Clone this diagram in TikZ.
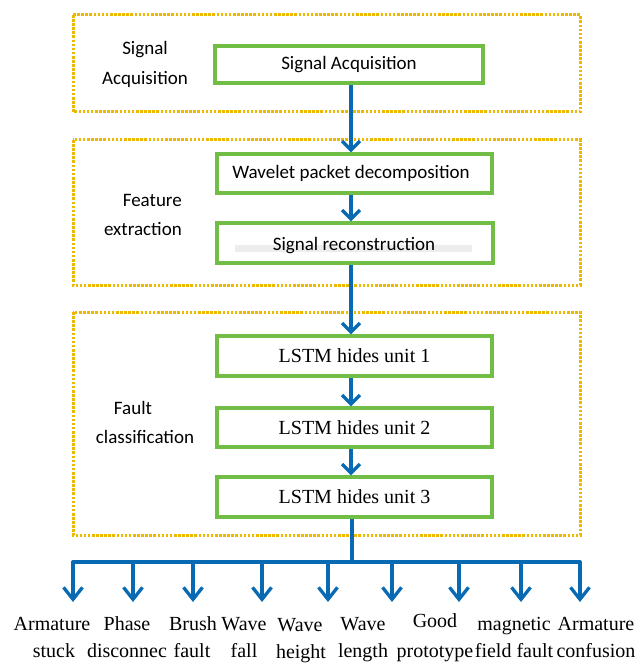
\documentclass[tikz,border=0pt]{standalone}
\usepackage{fontspec}
\setmainfont{Liberation Serif}
\newfontfamily\calfont{Carlito}
\usetikzlibrary{arrows.meta}
\definecolor{boxgreen}{RGB}{112,190,70}
\definecolor{dotgold}{RGB}{236,184,0}
\definecolor{arrblue}{RGB}{8,106,178}
\tikzset{
  stage/.style={draw=dotgold, line width=3pt, dash pattern=on 2.6pt off 1.5pt},
  gbox/.style={draw=boxgreen, line width=3.2pt, fill=white, inner sep=0pt},
  caltext/.style={font=\calfont\fontsize{19}{23}\selectfont, inner sep=0pt},
  sertext/.style={font=\fontsize{20}{24}\selectfont, inner sep=0pt},
  flow/.style={draw=arrblue, line width=3.3pt, -{Straight Barb[length=9pt,width=18pt,line width=3.3pt]}},
  branch/.style={draw=arrblue, line width=3.3pt, -{Straight Barb[length=12pt,width=19pt,line width=3.3pt]}},
  bus/.style={draw=arrblue, line width=3.3pt, line cap=butt},
  outlbl/.style={font=\fontsize{20}{24}\selectfont, inner sep=0pt, anchor=base}
}
\begin{document}
\begin{tikzpicture}[x=1pt,y=-1pt]
\useasboundingbox[fill=white] (0,0) rectangle (635,663);

% stage frames
\draw[stage] (73,15) rectangle (580,112);
\draw[stage] (73,140) rectangle (580,285);
\draw[stage] (73,312) rectangle (580,535);

% stage labels
\node[caltext] (l1a) at (145,50) {Signal};
\node[caltext] (l1b) at (145,79) {Acquisition};
\node[caltext, anchor=east] (l2a) at (182,200) {Feature};
\node[caltext, anchor=east] (l2b) at (182,229) {extraction};
\node[caltext] (l3a) at (133,408) {Fault};
\node[caltext] (l3b) at (145,437) {classification};

% green boxes
\node[gbox, minimum width=268pt, minimum height=37pt] (sa) at (349,64.5) {};
\node[caltext] (satxt) at (sa.center) {Signal Acquisition};
\node[gbox, minimum width=275pt, minimum height=39pt] (wpd) at (354.5,173.5) {};
\node[caltext] (wpdtxt) at (351,173) {Wavelet packet decomposition};
\node[gbox, minimum width=276pt, minimum height=40pt] (sr) at (355,243) {};
\fill[gray!14] (235,245) rectangle (472,252);
\node[caltext] (srtxt) at (354,246) {Signal reconstruction};
\node[gbox, minimum width=275pt, minimum height=40pt] (u1) at (354.5,356) {};
\node[sertext] (u1t) at (u1.center) {LSTM hides unit 1};
\node[gbox, minimum width=275pt, minimum height=39pt] (u2) at (354.5,427.5) {};
\node[sertext] (u2t) at (u2.center) {LSTM hides unit 2};
\node[gbox, minimum width=275pt, minimum height=40pt] (u3) at (354.5,497) {};
\node[sertext] (u3t) at (u3.center) {LSTM hides unit 3};

% vertical flow
\coordinate (stem) at (351,0);
\draw[flow] (sa.south -| stem) -- (wpd.north -| stem);
\draw[flow] (wpd.south -| stem) -- (sr.north -| stem);
\draw[flow] (sr.south -| stem) -- (u1.north -| stem);
\draw[flow] (u1.south -| stem) -- (u2.north -| stem);
\draw[flow] (u2.south -| stem) -- (u3.north -| stem);

% bus
\coordinate (j) at (352,562);
\coordinate (bl) at (73,562);
\coordinate (br) at (580,562);
\draw[bus] (u3.south -| j) -- (j);
\draw[bus, line join=round] (bl) ++(0,15) -- (bl) -- (br) -- ++(0,15);

% branch tips
\foreach \n/\x in {a/73,b/133,c/193,d/262,e/328,f/392,g/459,h/521,i/580}{
  \coordinate (t\n) at (\x,602);
  \coordinate (s\n) at (\x,562);
  \draw[branch] (s\n) -- (t\n);
}

% outcome labels
\node[outlbl] (o1a) at (52,630) {Armature};
\node[outlbl] (o1b) at (54,657) {stuck};
\node[outlbl] (o2a) at (127,630) {Phase};
\node[outlbl] (o2b) at (127,657) {disconnec};
\node[outlbl] (o3a) at (193,630) {Brush};
\node[outlbl] (o3b) at (192,657) {fault};
\node[outlbl] (o4a) at (244,630) {Wave};
\node[outlbl] (o4b) at (244,657) {fall};
\node[outlbl] (o5a) at (300,631) {Wave};
\node[outlbl] (o5b) at (301,658) {height};
\node[outlbl] (o6a) at (363,630) {Wave};
\node[outlbl] (o6b) at (363,657) {length};
\node[outlbl] (o7a) at (435,627) {Good};
\node[outlbl] (o7b) at (435,657) {prototype};
\node[outlbl] (o8a) at (514,630) {magnetic};
\node[outlbl] (o8b) at (514,657) {field fault};
\node[outlbl] (o9a) at (596,630) {Armature};
\node[outlbl] (o9b) at (596,657) {confusion};
\end{tikzpicture}
\end{document}
